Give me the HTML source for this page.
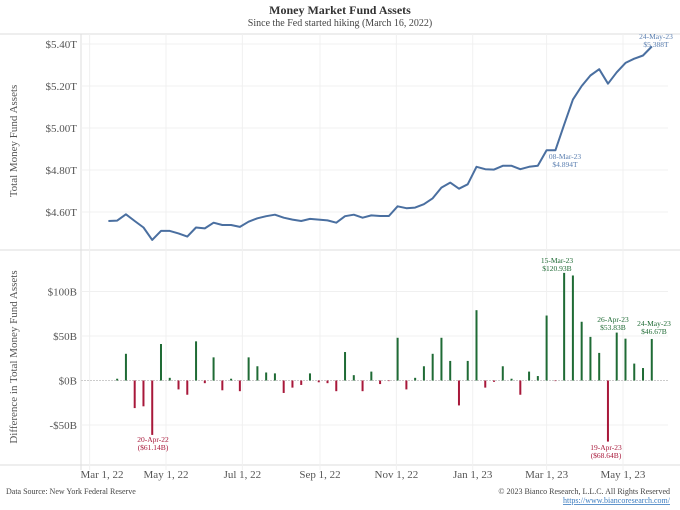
<!DOCTYPE html>
<html><head><meta charset="utf-8"><style>
html,body{margin:0;padding:0;background:#fff;}
svg{display:block;font-family:"Liberation Serif",serif;}
</style></head><body>
<svg id="c" width="680" height="510" viewBox="0 0 680 510">
<text x="340" y="14" text-anchor="middle" font-size="12" font-weight="bold" fill="#333">Money Market Fund Assets</text>
<text x="340" y="26" text-anchor="middle" font-size="10" fill="#444">Since the Fed started hiking (March 16, 2022)</text>
<g id="gridG"></g>
<g id="topG"></g>
<g id="botG"></g>
<text transform="translate(17,141) rotate(-90)" text-anchor="middle" font-size="11" fill="#555">Total Money Fund Assets</text>
<text transform="translate(17,357) rotate(-90)" text-anchor="middle" font-size="11" fill="#555">Difference in Total Money Fund Assets</text>
<text x="6" y="494" font-size="8" fill="#444">Data Source: New York Federal Reserve</text>
<text x="670" y="494" text-anchor="end" font-size="8" fill="#444">© 2023 Bianco Research, L.L.C. All Rights Reserved</text>
<text x="670" y="503" text-anchor="end" font-size="8" fill="#3a7bbf" text-decoration="underline">https://www.biancoresearch.com/</text>
</svg>
<script>
const assets=[4.557,4.559,4.589,4.557,4.526,4.467,4.510,4.510,4.498,4.483,4.526,4.522,4.549,4.538,4.538,4.529,4.554,4.570,4.580,4.587,4.573,4.564,4.557,4.567,4.564,4.560,4.549,4.580,4.587,4.573,4.584,4.581,4.581,4.627,4.618,4.621,4.637,4.665,4.716,4.740,4.711,4.732,4.815,4.804,4.802,4.820,4.820,4.804,4.815,4.820,4.894,4.894,5.015,5.135,5.200,5.250,5.280,5.211,5.265,5.310,5.330,5.345,5.388];
const diffs=[2,30,-31,-29,-61.14,41,3,-10,-16,44,-3,26,-11,2,-12,26,16,9,8,-14,-8,-5,8,-2,-3,-12,32,6,-12,10,-4,-0.5,48,-10,3,16,30,48,22,-28,22,79,-8,-1.5,16,2,-16,10,5,73,-0.5,120.93,118,66,49,31,-68.64,53.83,47,19,14,46.67];
const topTicks=[4.6,4.8,5.0,5.2,5.4];
const topTickLabels=["$4.60T","$4.80T","$5.00T","$5.20T","$5.40T"];
const botTicks=[-50,0,50,100];
const botTickLabels=["-$50B","$0B","$50B","$100B"];
const xTickDays=[-61,0,61,123,184,245,304,365];
const xTickLabels=["Mar 1, 22","May 1, 22","Jul 1, 22","Sep 1, 22","Nov 1, 22","Jan 1, 23","Mar 1, 23","May 1, 23"];
const startDay=-46;
const NS="http://www.w3.org/2000/svg";
const X=d=>166+(d)*1.252;
const YT=v=>212-(v-4.6)/0.2*42;
const YB=v=>380.5-v*0.89;
const L=81,R=668;
function el(t,a,p){const e=document.createElementNS(NS,t);for(const k in a)e.setAttribute(k,a[k]);(p||document.getElementById('c')).appendChild(e);return e;}
const gridGrp=document.getElementById('gridG'),topGrp=document.getElementById('topG'),botGrp=document.getElementById('botG');
let f=el('line',{x1:0,y1:34,x2:680,y2:34,stroke:'#ddd'},gridGrp);


f=el('line',{x1:0,y1:250,x2:680,y2:250,stroke:'#ddd'},gridGrp);


f=el('line',{x1:0,y1:465,x2:680,y2:465,stroke:'#ddd'},gridGrp);


f=el('line',{x1:L,y1:34,x2:L,y2:470,stroke:'#ddd'},gridGrp);


xTickDays.forEach((d,i)=>{const x=X(d);
 if(x>L+2){const g=el('line',{x1:x,y1:34,x2:x,y2:470,stroke:'#f0f0f0'},gridGrp);
 
 }
 const t=el('text',{x:Math.max(x,102),y:478,'text-anchor':'middle','font-size':'11',fill:'#555'},gridGrp);t.textContent=xTickLabels[i];
 
 });
topTicks.forEach((v,i)=>{const y=YT(v);
 const g=el('line',{x1:L,y1:y,x2:R,y2:y,stroke:'#f0f0f0'},gridGrp);
 
 
 const t=el('text',{x:77,y:y+4,'text-anchor':'end','font-size':'11',fill:'#555'},gridGrp);t.textContent=topTickLabels[i];
 
 });
botTicks.forEach((v,i)=>{const y=YB(v);
 const g=el('line',{x1:L,y1:y,x2:R,y2:y,stroke:v===0?'#ccc':'#f0f0f0','stroke-dasharray':v===0?'2,1':'none'},gridGrp);
 
 
 const t=el('text',{x:77,y:y+4,'text-anchor':'end','font-size':'11',fill:'#555'},gridGrp);t.textContent=botTickLabels[i];
 
 });
const pts=assets.map((v,i)=>X(startDay+7*i).toFixed(1)+','+YT(v).toFixed(1)).join(' ');
const line=el('polyline',{points:pts,fill:'none',stroke:'#4a6fa0','stroke-width':'2','stroke-linejoin':'round'},topGrp);


diffs.forEach((v,i)=>{const x=X(startDay+7*(i+1));const y0=YB(0),y1=YB(v);
 const b=el('rect',{x:x-1,y:Math.min(y0,y1),width:2,height:Math.max(0.6,Math.abs(y1-y0)),fill:v>=0?'#1f6b35':'#a8183a'},botGrp);
 
 });
function ann(x,y,l1,l2,c,name){const t1=el('text',{x:x,y:y,'text-anchor':'middle','font-size':'7.5',fill:c});t1.textContent=l1;
 
 
 const t2=el('text',{x:x,y:y+8,'text-anchor':'middle','font-size':'7.5',fill:c});t2.textContent=l2;
 
 }
ann(656,39,'24-May-23','$5.388T','#5b7fb0','annotation-may24-assets');
ann(565,159,'08-Mar-23','$4.894T','#5b7fb0','annotation-mar08-assets');
ann(557,263,'15-Mar-23','$120.93B','#1f6b35','annotation-mar15-diff');
ann(613,322,'26-Apr-23','$53.83B','#1f6b35','annotation-apr26-diff');
ann(654,326,'24-May-23','$46.67B','#1f6b35','annotation-may24-diff');
ann(153,442,'20-Apr-22','($61.14B)','#a8183a','annotation-apr20-diff');
ann(606,450,'19-Apr-23','($68.64B)','#a8183a','annotation-apr19-diff');
</script>
</body></html>
